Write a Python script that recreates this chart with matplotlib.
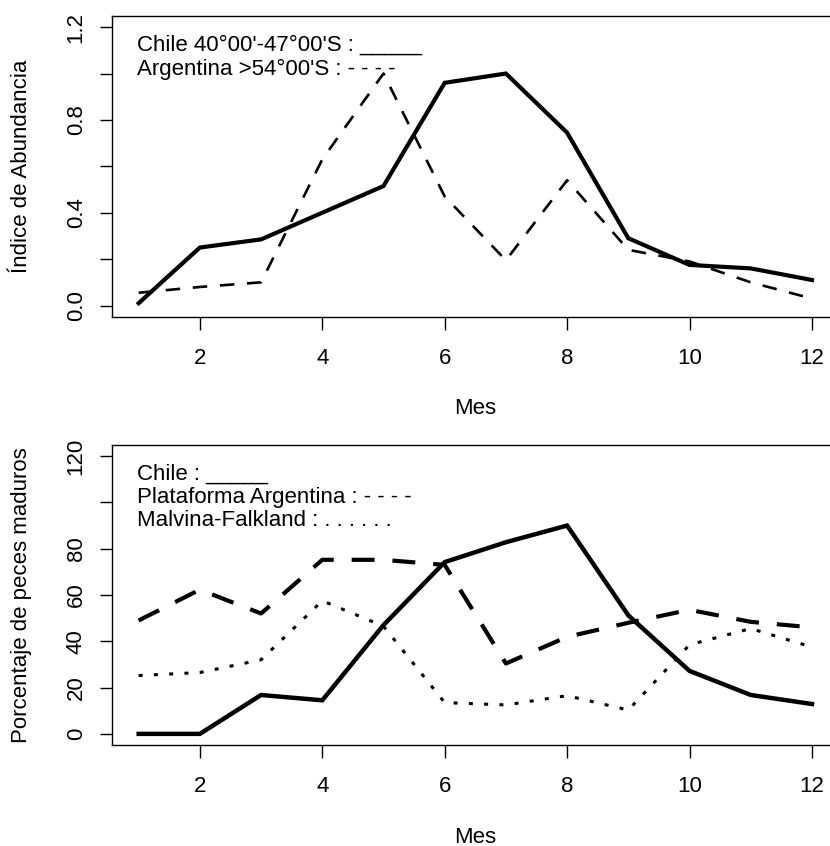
import matplotlib.pyplot as plt

plt.rcParams['font.family'] = ['Liberation Sans', 'DejaVu Sans']

meses = list(range(1, 13))

# Indice de abundancia
chile_abund = [0.01, 0.25, 0.285, 0.40, 0.515, 0.96, 1.00, 0.745, 0.29, 0.175, 0.16, 0.11]
arg_abund = [0.055, 0.08, 0.10, 0.63, 1.00, 0.47, 0.195, 0.54, 0.24, 0.19, 0.10, 0.03]

# Porcentaje de peces maduros
chile_mad = [0, 0, 16.8, 14.5, 47, 74.2, 82.8, 90, 51.2, 27.2, 16.8, 12.9]
plat_arg_mad = [49, 62.3, 52, 75.2, 75.2, 73, 30.4, 41.9, 48, 53.6, 48.4, 46]
malv_mad = [25.2, 26.5, 32, 57.5, 46.5, 13.5, 12.5, 16.5, 10.3, 38.5, 45.5, 37.5]

W, H = 830, 846
fig = plt.figure(figsize=(W / 100, H / 100), dpi=100)
FS = 16


def px(x, y):
    return x / W, 1 - y / H


def setup(ax, ylim, yticks, ylabels):
    ax.set_xlim(0.56, 12.44)
    ax.set_ylim(*ylim)
    ax.set_xticks([2, 4, 6, 8, 10, 12])
    ax.set_yticks(yticks)
    ax.set_yticklabels(ylabels)
    for s in ax.spines.values():
        s.set_linewidth(1.0)
    ax.tick_params(axis='x', length=9.5, width=1.0, pad=13, labelsize=FS)
    ax.tick_params(axis='y', length=9, width=1.0, pad=9, labelsize=FS)
    for t in ax.get_yticklabels():
        t.set_rotation(90)
        t.set_va('center')


# panel superior
ax1 = fig.add_axes([0.1346, 0.6257, 0.8761, 0.3554])
ax1.plot(meses, chile_abund, color='black', lw=3.0, solid_joinstyle='miter')
ax1.plot(meses, arg_abund, color='black', lw=1.9, linestyle=(0, (5.5, 4.8)))
setup(ax1, (-0.048, 1.248), [0, 0.2, 0.4, 0.6, 0.8, 1.0, 1.2],
      ['0.0', '', '0.4', '', '0.8', '', '1.2'])
fig.text(*px(137, 50.7), "Chile 40°00'-47°00'S : _____", fontsize=FS, va='baseline')
fig.text(*px(137, 75), "Argentina >54°00'S : - - - -", fontsize=FS, va='baseline')
fig.text(*px(22, 166), 'Índice de Abundancia', rotation=90, fontsize=FS,
         ha='center', va='center')
fig.text(*px(475, 408), 'Mes', fontsize=FS, ha='center', va='center')

# panel inferior
ax2 = fig.add_axes([0.1346, 0.1194, 0.8761, 0.3546])
ax2.plot(meses, chile_mad, color='black', lw=3.2, solid_joinstyle='miter')
ax2.plot(meses, plat_arg_mad, color='black', lw=3.0, linestyle=(0, (5.5, 4.3)))
ax2.plot(meses, malv_mad, color='black', lw=2.2, linestyle=(0, (1.3, 3.7)))
setup(ax2, (-4.8, 124.8), [0, 20, 40, 60, 80, 100, 120],
      ['0', '20', '40', '60', '80', '', '120'])
fig.text(*px(137, 479.3), 'Chile : _____', fontsize=FS, va='baseline')
fig.text(*px(137, 503.3), 'Plataforma Argentina : - - - -', fontsize=FS, va='baseline')
fig.text(*px(137, 525.7), 'Malvina-Falkland : . . . . . .', fontsize=FS, va='baseline')
fig.text(*px(22, 595), 'Porcentaje de peces maduros', rotation=90, fontsize=FS,
         ha='center', va='center')
fig.text(*px(475, 837), 'Mes', fontsize=FS, ha='center', va='center')

fig.savefig('out.png', dpi=100, facecolor='white')
